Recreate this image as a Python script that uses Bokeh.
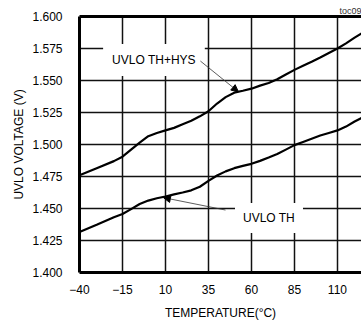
from bokeh.plotting import figure
from bokeh.models import (Range1d, FixedTicker, NumeralTickFormatter, Label, Arrow,
                          NormalHead, LinearAxis, ColumnDataSource, Title)
from bokeh.embed import file_html
from bokeh.resources import INLINE

# ---- data ----
temps = [-40, -30, -20, -15, -10, -5, 0, 5, 10, 15, 20, 25, 30, 35, 40, 45, 50, 55,
         60, 65, 70, 75, 80, 85, 90, 95, 100, 105, 110, 115, 120, 125]
uvlo_th_hys = [1.476, 1.4815, 1.487, 1.4905, 1.496, 1.5015, 1.5065, 1.509, 1.511, 1.513,
               1.5158, 1.5185, 1.522, 1.526, 1.532, 1.537, 1.5405, 1.542, 1.5436, 1.546,
               1.548, 1.551, 1.5547, 1.5583, 1.5615, 1.5647, 1.568, 1.5715, 1.575, 1.579,
               1.5835, 1.5875]
uvlo_th = [1.4317, 1.4373, 1.4432, 1.4457, 1.4495, 1.4535, 1.4562, 1.458, 1.4594, 1.461,
           1.4625, 1.4642, 1.467, 1.4716, 1.4758, 1.479, 1.4815, 1.4833, 1.4849, 1.4872,
           1.4898, 1.4925, 1.496, 1.4995, 1.502, 1.5045, 1.507, 1.509, 1.511, 1.514,
           1.518, 1.5215]
x_ticks = [-40, -15, 10, 35, 60, 85, 110]
y_ticks = [1.400, 1.425, 1.450, 1.475, 1.500, 1.525, 1.550, 1.575, 1.600]
series_labels = ["UVLO TH+HYS", "UVLO TH"]

FONT = "Liberation Sans"

p = figure(width=361, height=322, output_backend="svg", toolbar_location=None,
           x_range=Range1d(-40, 124), y_range=Range1d(1.400, 1.600),
           min_border_left=79, min_border_right=0, min_border_top=16, min_border_bottom=48)
p.outline_line_color = None
p.background_fill_color = "white"
p.border_fill_color = "white"

src = ColumnDataSource(dict(t=temps, hys=uvlo_th_hys, th=uvlo_th))
p.line("t", "hys", source=src, line_color="black", line_width=2.2)
p.line("t", "th", source=src, line_color="black", line_width=2.2)

# axes
for ax in (p.xaxis[0], p.yaxis[0]):
    ax.axis_line_width = 3
    ax.axis_line_color = "black"
    ax.major_tick_line_color = None
    ax.minor_tick_line_color = None
    ax.major_label_text_font = FONT
    ax.major_label_text_font_size = "12px"
    ax.major_label_text_color = "black"
    ax.axis_label_text_font = FONT
    ax.axis_label_text_font_size = "12px"
    ax.axis_label_text_font_style = "normal"
    ax.axis_label_text_color = "black"

p.xaxis.ticker = FixedTicker(ticks=x_ticks)
p.yaxis.ticker = FixedTicker(ticks=y_ticks)
p.yaxis.formatter = NumeralTickFormatter(format="0.000")
p.xaxis.axis_label = "TEMPERATURE(°C)"
p.yaxis.axis_label = "UVLO VOLTAGE (V)"
p.xaxis.major_label_standoff = 6
p.xaxis.axis_label_standoff = 9
p.yaxis.major_label_standoff = 11
p.yaxis.axis_label_standoff = 3

top = LinearAxis(ticker=FixedTicker(ticks=[]), axis_line_width=3, axis_line_color="black",
                 major_tick_line_color=None, minor_tick_line_color=None,
                 major_label_text_font_size="0px", major_label_standoff=0)
p.add_layout(top, "above")

p.add_layout(Title(text="toc09", align="right", text_font=FONT, text_font_size="9px",
                   text_font_style="normal", text_color="#333333", standoff=1), "above")

p.grid.grid_line_color = "#111111"
p.grid.grid_line_width = 1.5
p.xgrid.ticker = FixedTicker(ticks=x_ticks)
p.ygrid.ticker = FixedTicker(ticks=y_ticks)

# callouts
p.add_layout(Label(x=3.3, y=1.5661, text=series_labels[0], text_align="center",
                   text_baseline="middle", text_font=FONT, text_font_size="12px",
                   text_color="black", background_fill_color="white", padding=9))
p.add_layout(Label(x=70.2, y=1.4426, text=series_labels[1], text_align="center",
                   text_baseline="middle", text_font=FONT, text_font_size="12px",
                   text_color="black", background_fill_color="white", padding=8))

p.add_layout(Arrow(x_start=30.3, y_start=1.5652, x_end=52.4, y_end=1.5412,
                   line_color="#333333", line_width=0.8,
                   end=NormalHead(size=7, fill_color="black", line_color="black")))
p.add_layout(Arrow(x_start=44.9, y_start=1.4488, x_end=8.8, y_end=1.4585,
                   line_color="#333333", line_width=0.8,
                   end=NormalHead(size=7, fill_color="black", line_color="black")))

open("out.html", "w").write(file_html(p, INLINE))
